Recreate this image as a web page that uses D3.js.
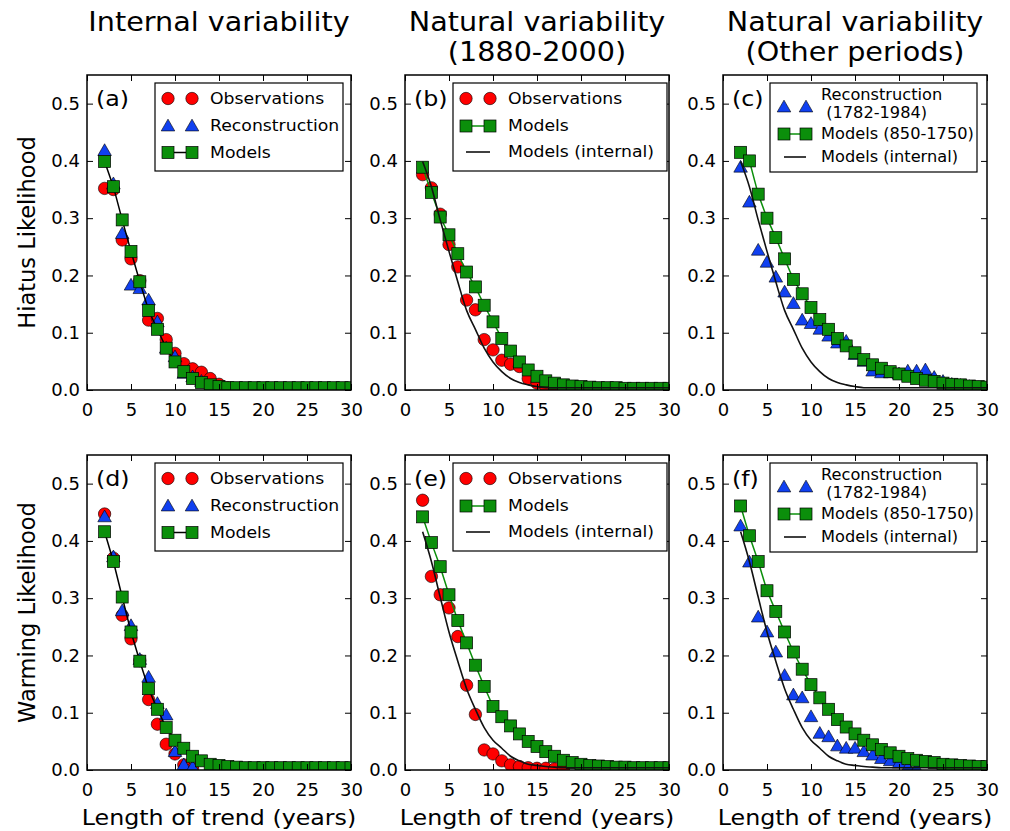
<!DOCTYPE html>
<html>
<head>
<meta charset="utf-8">
<script src="https://cdn.jsdelivr.net/npm/d3@7"></script>
<style>
  body { margin: 0; background: #fff; }
  text { font-family: "DejaVu Sans", sans-serif; fill: #000; white-space: pre; }
</style>
</head>
<body>
<svg id="chart" width="1010" height="831"></svg>
<script>
// trend lengths (years) on the x axis
const trendLengths = [2,3,4,5,6,7,8,9,10,11,12,13,14,15,16,17,18,19,20,21,22,23,24,25,26,27,28,29,30];
const xTicks = [0, 5, 10, 15, 20, 25, 30];
const yTicks = [0, 0.1, 0.2, 0.3, 0.4, 0.5];

// hiatus likelihood (top row)
const hiatusObs = [.352,.350,.262,.229,.191,.122,.125,.088,.064,.046,.037,.031,.020,.010,.004,.002];
const hiatusRecon = [.418,.360,.273,.183,.177,.157,.119,.073,.058,.029,.023,.015,.006,.003,.002];
const hiatusModels = [.399,.355,.297,.242,.189,.139,.106,.073,.049,.032,.020,.013,.009,.006,.004,.004,.004,.004,.004,.004,.004,.004,.004,.004,.004,.004,.004,.004,.004];
const hiatusObs1880 = [.376,.353,.307,.254,.215,.157,.140,.088,.070,.052,.045,.041,.020,.012,.006,.002];
const hiatusModels1880 = [.389,.345,.302,.271,.238,.206,.180,.148,.119,.090,.068,.049,.035,.024,.016,.012,.009,.007,.006,.005,.004,.004,.004,.003,.003,.003,.003,.003,.003];
const hiatusRecon1782 = [.389,.328,.244,.223,.197,.171,.151,.122,.116,.106,.094,.082,.085,.062,.050,.033,.030,.030,.028,.033,.033,.035,.022,.015,.010,.008,.006,.004,.003];
const hiatusModels850 = [.415,.400,.342,.300,.266,.229,.193,.168,.144,.123,.106,.090,.077,.065,.053,.044,.038,.032,.028,.024,.020,.017,.015,.012,.010,.009,.007,.006,.005];

// warming likelihood (bottom row)
const warmingObs = [.447,.370,.270,.229,.191,.123,.080,.045,.028,.009,.002];
const warmingRecon = [.442,.372,.278,.252,.193,.162,.116,.096,.032,.009,.005];
const warmingModels = [.416,.364,.302,.241,.190,.142,.106,.074,.052,.038,.024,.016,.010,.008,.006,.005,.004,.004,.004,.004,.004,.004,.004,.004,.004,.004,.004,.004,.004];
const warmingObs1880 = [.471,.338,.306,.283,.233,.148,.097,.035,.028,.016,.009,.006,.004,.003,.003,.002,.002];
const warmingModels1880 = [.442,.397,.355,.306,.261,.222,.183,.146,.111,.093,.077,.063,.050,.041,.032,.024,.017,.013,.010,.008,.007,.006,.005,.005,.004,.004,.004,.004,.004];
const warmingRecon1782 = [.426,.363,.267,.241,.206,.165,.131,.126,.093,.064,.058,.042,.038,.038,.032,.026,.020,.016,.012,.005,.002];
const warmingModels850 = [.461,.409,.364,.313,.277,.241,.206,.176,.149,.126,.106,.088,.075,.063,.052,.044,.036,.030,.024,.020,.017,.015,.013,.010,.009,.008,.007,.006,.006];

const titles = [["Internal variability"], ["Natural variability", "(1880-2000)"], ["Natural variability", "(Other periods)"]];
const rowLabels = ["Hiatus Likelihood", "Warming Likelihood"];
const xLabel = "Length of trend (years)";

const RED = "#ff0000", BLUE = "#1040f0", GREEN = "#0b8f0b";

const svg = d3.select("#chart");
const colX = [87, 405, 723];
const rowTop = [75, 455];
const W = 264, H = 315;
const STRETCH = 1.08;

function label(sel, x, y, str, size, anchor, sx, rot) {
  const g = sel.append("g")
    .attr("transform", `translate(${x},${y})${rot ? ` rotate(${rot})` : ""} scale(${sx == null ? STRETCH : sx},1)`);
  return g.append("text")
    .attr("text-anchor", anchor || "start")
    .attr("dominant-baseline", "central")
    .attr("xml:space", "preserve")
    .style("font-size", size + "px")
    .text(str);
}

const tri = d3.symbol(d3.symbolTriangle, 80);

function drawCircle(g, x, y) {
  g.append("circle").attr("cx", x).attr("cy", y).attr("r", 6.2)
    .attr("fill", RED).attr("stroke", "#000").attr("stroke-width", 0.6);
}
function drawTri(g, x, y) {
  g.append("path").attr("d", tri).attr("transform", `translate(${x},${y + 1})`)
    .attr("fill", BLUE).attr("stroke", "#000").attr("stroke-width", 0.6);
}
function drawSquare(g, x, y) {
  g.append("rect").attr("x", x - 6).attr("y", y - 6).attr("width", 12).attr("height", 12)
    .attr("fill", GREEN).attr("stroke", "#000").attr("stroke-width", 0.7);
}

const panels = [
  { tag: "(a)", col: 0, row: 0, obs: hiatusObs, recon: hiatusRecon, models: hiatusModels, modelColor: "#000", internal: null,
    legend: { box: [68, 8, 188, 88], m: [13, 37], tx: 55, size: 16,
      items: [{ k: "circle", y: 15.5, t: ["Observations"] }, { k: "tri", y: 43, t: ["Reconstruction"] }, { k: "sq", c: "#000", y: 69.5, t: ["Models"] }] } },
  { tag: "(b)", col: 1, row: 0, obs: hiatusObs1880, recon: null, models: hiatusModels1880, modelColor: GREEN, internal: hiatusModels,
    legend: { box: [48, 8, 214, 88], m: [13, 37], tx: 55, size: 16,
      items: [{ k: "circle", y: 15.5, t: ["Observations"] }, { k: "sq", c: GREEN, y: 43, t: ["Models"] }, { k: "line", y: 69, t: ["Models (internal)"] }] } },
  { tag: "(c)", col: 2, row: 0, obs: null, recon: hiatusRecon1782, models: hiatusModels850, modelColor: GREEN, internal: hiatusModels,
    legend: { box: [47, 8, 207, 89], m: [14, 36], tx: 51, size: 15,
      items: [{ k: "tri", y: 24, t: ["Reconstruction", "\u00a0(1782-1984)"], ty: [12, 30] }, { k: "sq", c: GREEN, y: 51, t: ["Models (850-1750)"] }, { k: "line", y: 74, t: ["Models (internal)"] }] } },
  { tag: "(d)", col: 0, row: 1, obs: warmingObs, recon: warmingRecon, models: warmingModels, modelColor: "#000", internal: null,
    legend: null },
  { tag: "(e)", col: 1, row: 1, obs: warmingObs1880, recon: null, models: warmingModels1880, modelColor: GREEN, internal: warmingModels,
    legend: null },
  { tag: "(f)", col: 2, row: 1, obs: null, recon: warmingRecon1782, models: warmingModels850, modelColor: GREEN, internal: warmingModels,
    legend: null }
];
panels[3].legend = panels[0].legend;
panels[4].legend = panels[1].legend;
panels[5].legend = panels[2].legend;

const x = d3.scaleLinear().domain([0, 30]).range([0, W]);
const y = d3.scaleLinear().domain([0, 0.55]).range([H, 0]);

function pts(arr) {
  return arr.map((v, i) => [trendLengths[i], v]).filter(d => d[1] != null);
}

panels.forEach((p, pi) => {
  const g = svg.append("g").attr("transform", `translate(${colX[p.col]},${rowTop[p.row]})`);
  const clipId = "clip" + pi;
  g.append("clipPath").attr("id", clipId).append("rect").attr("width", W).attr("height", H);
  const plot = g.append("g").attr("clip-path", `url(#${clipId})`);

  const lineGen = d3.line().x(d => x(d[0])).y(d => y(d[1]));

  if (p.obs) pts(p.obs).forEach(d => drawCircle(plot, x(d[0]), y(d[1])));
  if (p.recon) pts(p.recon).forEach(d => drawTri(plot, x(d[0]), y(d[1])));
  plot.append("path").attr("d", lineGen(pts(p.models)))
    .attr("fill", "none").attr("stroke", p.modelColor).attr("stroke-width", 1.5);
  pts(p.models).forEach(d => drawSquare(plot, x(d[0]), y(d[1])));
  if (p.internal) {
    plot.append("path").attr("d", lineGen.curve(d3.curveMonotoneX)(pts(p.internal)))
      .attr("fill", "none").attr("stroke", "#111").attr("stroke-width", 1.6);
  }

  // axes with inward ticks on all sides
  const ax = [
    g.append("g").attr("transform", `translate(0,${H})`).call(d3.axisBottom(x).tickValues(xTicks).tickSize(-6).tickPadding(13)),
    g.append("g").call(d3.axisTop(x).tickValues(xTicks).tickSize(-6).tickFormat("")),
    g.append("g").call(d3.axisLeft(y).tickValues(yTicks).tickSize(-6).tickPadding(7).tickFormat(d3.format(".1f"))),
    g.append("g").attr("transform", `translate(${W},0)`).call(d3.axisRight(y).tickValues(yTicks).tickSize(-6).tickFormat(""))
  ];
  ax.forEach(a => {
    a.select(".domain").remove();
    a.selectAll(".tick line").attr("stroke", "#000").attr("stroke-width", 1);
    a.selectAll(".tick text").style("font-size", "18px").style("font-family", '"DejaVu Sans", sans-serif').attr("fill", "#000");
  });
  g.append("rect").attr("width", W).attr("height", H).attr("fill", "none").attr("stroke", "#000").attr("stroke-width", 1.5);

  // panel tag
  label(g, 9, 23, p.tag, 22);

  // legend
  const L = p.legend;
  const lg = g.append("g").attr("transform", `translate(${L.box[0]},${L.box[1]})`);
  lg.append("rect").attr("width", L.box[2]).attr("height", L.box[3])
    .attr("fill", "#fff").attr("stroke", "#000").attr("stroke-width", 1.2);
  L.items.forEach(it => {
    if (it.k === "circle") L.m.forEach(mx => drawCircle(lg, mx, it.y));
    if (it.k === "tri") L.m.forEach(mx => drawTri(lg, mx, it.y));
    if (it.k === "sq") {
      lg.append("line").attr("x1", L.m[0]).attr("x2", L.m[1]).attr("y1", it.y).attr("y2", it.y)
        .attr("stroke", it.c).attr("stroke-width", 1.5);
      L.m.forEach(mx => drawSquare(lg, mx, it.y));
    }
    if (it.k === "line") {
      lg.append("line").attr("x1", L.m[0]).attr("x2", L.m[1]).attr("y1", it.y).attr("y2", it.y)
        .attr("stroke", "#111").attr("stroke-width", 1.6);
    }
    it.t.forEach((s, si) => label(lg, L.tx, it.ty ? it.ty[si] : it.y, s, L.size));
  });

  if (p.row === 1) label(g, W / 2, 362, xLabel, 22, "middle");
  if (p.col === 0) label(svg, 27, rowTop[p.row] + H / 2, rowLabels[p.row], 22.5, "middle", 1, -90);
});

// column titles
titles.forEach((lines, c) => {
  lines.forEach((s, i) => label(svg, colX[c] + W / 2, 22 + i * 30, s, 26.5, "middle"));
});
</script>
</body>
</html>
